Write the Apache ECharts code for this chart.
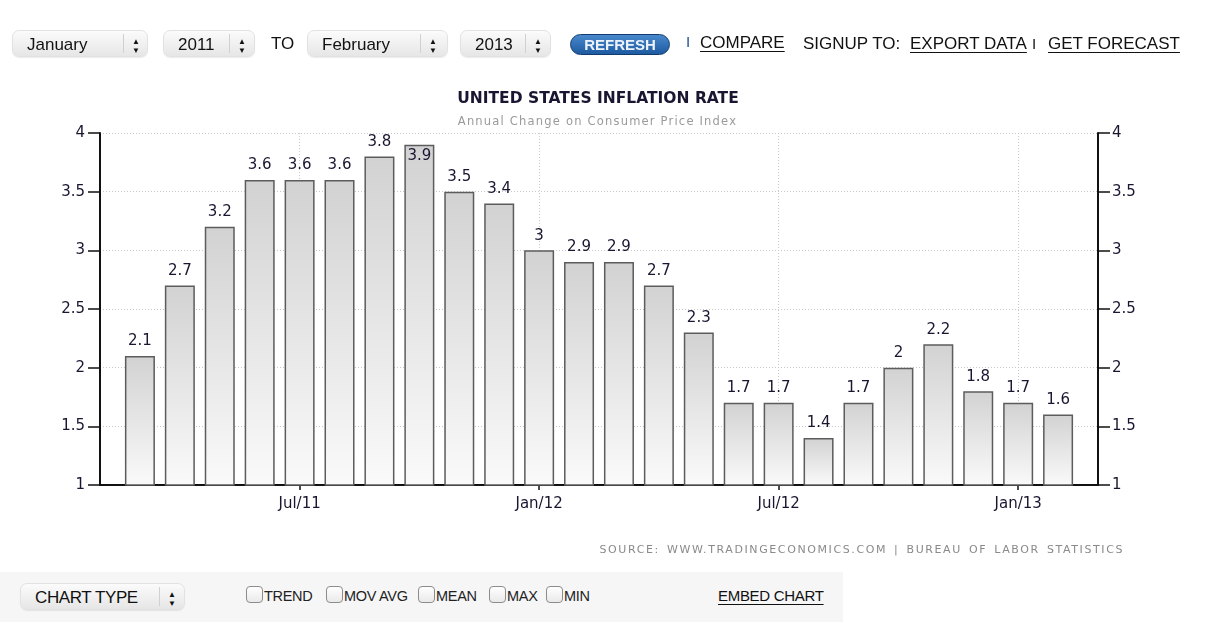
<!DOCTYPE html>
<html>
<head>
<meta charset="utf-8">
<script src="https://cdn.jsdelivr.net/npm/echarts@6/dist/echarts.min.js"></script>
<style>
  html, body { margin:0; padding:0; background:#fff; }
  #wrap { position:relative; width:1223px; height:641px; overflow:hidden; }
  #chart { position:absolute; left:0; top:0; width:1223px; height:641px; }
  .ui { position:absolute; font-family:"Liberation Sans", Arial, sans-serif; color:#111; white-space:nowrap; }
  .sel { position:absolute; height:27px; border-radius:7px; border:1px solid #e2e2e2;
         background:linear-gradient(#fbfbfb,#e6e6e6); box-shadow:0 1px 1px rgba(0,0,0,0.08);
         font-size:17px; line-height:27px; box-sizing:border-box; }
  .sel .t { position:absolute; left:14px; top:0; }
  .sel .sep { position:absolute; top:3px; bottom:3px; width:1px; background:#d0d0d0; }
  .sel .ar { position:absolute; line-height:9px; top:6px; font-size:8px; letter-spacing:0; }
  .lnk { position:absolute; font-size:17px; text-decoration:underline; text-underline-offset:3px; }
  .txt { position:absolute; font-size:17px; }
  .cb { position:absolute; top:586px; width:17px; height:17px; border:1px solid #8c8c8c; border-radius:4px; background:linear-gradient(#fff,#e9e9e9); box-sizing:border-box;}
  .cbl { position:absolute; top:588px; font-size:14.5px; letter-spacing:-0.3px; color:#222; }
  .ctext { position:absolute; font-family:"DejaVu Sans", sans-serif; white-space:nowrap; }
</style>
</head>
<body>
<div id="wrap">
  <div id="chart"></div>
</div>

<script>
// ---------- data ----------
// category stamps: each bar is dated at its month end, shown as the following month
var categories = ["Feb/11","Mar/11","Apr/11","May/11","Jun/11","Jul/11","Aug/11","Sep/11","Oct/11","Nov/11","Dec/11","Jan/12",
                  "Feb/12","Mar/12","Apr/12","May/12","Jun/12","Jul/12","Aug/12","Sep/12","Oct/12","Nov/12","Dec/12","Jan/13","Feb/13","Mar/13"];
var values = [null, 2.1, 2.7, 3.2, 3.6, 3.6, 3.6, 3.8, 3.9, 3.5, 3.4, 3.0, 2.9, 2.9, 2.7, 2.3, 1.7, 1.7, 1.4, 1.7, 2.0, 2.2, 1.8, 1.7, 1.6, null];
var tickLabels = ["Jul/11","Jan/12","Jul/12","Jan/13"];
var yTicks = [1, 1.5, 2, 2.5, 3, 3.5, 4];

var titleText = "UNITED STATES INFLATION RATE";
var subtitleText = "Annual Change on Consumer Price Index";
var sourceText = "SOURCE: WWW.TRADINGECONOMICS.COM | BUREAU OF LABOR STATISTICS";

// ---------- HTML controls ----------
(function(){
  var w = document.getElementById('wrap');
  function sel(x, y, wd, label, sepX){
    return '<div class="ui sel" style="left:'+x+'px;top:'+y+'px;width:'+wd+'px;">'+
      '<span class="t">'+label+'</span><span class="sep" style="left:'+sepX+'px"></span>'+
      '<span class="ar" style="left:'+(sepX+9)+'px;">&#9650;<br>&#9660;</span></div>';
  }
  var h = '';
  h += sel(12, 30, 136, 'January', 110);
  h += sel(163, 30, 92, '2011', 65);
  h += '<div class="ui txt" style="left:271px;top:34px;">TO</div>';
  h += sel(307, 30, 141, 'February', 112);
  h += sel(460, 30, 91, '2013', 64);
  h += '<div class="ui" style="left:570px;top:34px;width:100px;height:21px;border-radius:11px;background:linear-gradient(#4a88cc,#1d5aa0);border:1px solid #123c70;box-sizing:border-box;color:#eef3fb;font-weight:bold;font-size:15px;line-height:19px;text-align:center;">REFRESH</div>';
  h += '<div class="ui txt" style="left:686px;top:33px;color:#1d4f99;font-size:15px;">I</div>';
  h += '<div class="ui lnk" style="left:700px;top:33px;">COMPARE</div>';
  h += '<div class="ui txt" style="left:803px;top:34px;">SIGNUP TO:</div>';
  h += '<div class="ui lnk" style="left:910px;top:34px;">EXPORT DATA</div>';
  h += '<div class="ui txt" style="left:1032px;top:35px;font-size:15px;">I</div>';
  h += '<div class="ui lnk" style="left:1048px;top:34px;">GET FORECAST</div>';

  // bottom bar
  h += '<div style="position:absolute;left:0;top:572px;width:843px;height:50px;background:#f6f6f6;"></div>';
  h += sel(20, 583, 165, 'CHART TYPE', 138).replace('class="ui sel" style="', 'class="ui sel" style="letter-spacing:-0.4px;');
  var checks = [[246,'TREND',264],[326,'MOV AVG',344],[418,'MEAN',436],[489,'MAX',507],[546,'MIN',564]];
  checks.forEach(function(k){
    h += '<div class="ui cb" style="left:'+k[0]+'px;"></div><div class="ui cbl" style="left:'+k[2]+'px;">'+k[1]+'</div>';
  });
  h += '<div class="ui lnk" style="left:718px;top:587px;font-size:15px;letter-spacing:-0.3px;">EMBED CHART</div>';

  // chart texts
  h += '<div class="ctext" style="left:0;width:1195px;text-align:center;top:114px;font-size:11.5px;letter-spacing:1.2px;color:#9a9a9a;">'+subtitleText+'</div>';
  h += '<div class="ctext" style="right:99px;top:543px;font-size:11px;letter-spacing:1.6px;color:#8a8a8a;word-spacing:2px;">'+sourceText+'</div>';
  w.insertAdjacentHTML('beforeend', h);
})();

// ---------- chart ----------
var chart = echarts.init(document.getElementById('chart'), null, {renderer:'canvas'});
var ymin = yTicks[0], ymax = yTicks[yTicks.length-1];

var barData = values.map(function(v){
  if (v === null) return null;
  if (v > ymax - 0.15) return {value:v, label:{position:'insideTop', distance:4}};
  return v;
});

function isTick(i){ return tickLabels.indexOf(categories[i]) >= 0; }

var axisFont = {fontFamily:'DejaVu Sans', fontSize:15, color:'#1a1530'};

var option = {
  animation:false,
  backgroundColor:'transparent',
  title:[
    {text:titleText, left:593, top:86, textAlign:'center',
     textStyle:{fontFamily:'DejaVu Sans', fontWeight:'bold', fontSize:15.5, color:'#1a1530'}}
  ],
  grid:{left:100, right:125, top:133, bottom:156, containLabel:false},
  xAxis:{
    type:'category', data:categories, boundaryGap:false,
    axisLine:{show:true, onZero:false, lineStyle:{color:'#111', width:2}},
    axisTick:{show:true, length:5, interval:function(i){return isTick(i);}, lineStyle:{color:'#111', width:1.5}},
    axisLabel:{interval:function(i){return isTick(i);}, margin:12, fontFamily:'DejaVu Sans', fontSize:15, color:'#1a1530'},
    splitLine:{show:true, interval:function(i){return isTick(i);}, lineStyle:{color:'#c8c8c8', type:[1,2], width:1}}
  },
  yAxis:[
    {type:'value', min:ymin, max:ymax, interval:0.5, position:'left',
     axisLine:{show:true, lineStyle:{color:'#111', width:2}},
     axisTick:{show:true, length:12, lineStyle:{color:'#111', width:1.5}},
     axisLabel:Object.assign({margin:15}, axisFont),
     splitLine:{show:true, lineStyle:{color:'#c8c8c8', type:[1,2], width:1}}},
    {type:'value', min:ymin, max:ymax, interval:0.5, position:'right',
     axisLine:{show:true, lineStyle:{color:'#111', width:2}},
     axisTick:{show:true, length:12, lineStyle:{color:'#111', width:1.5}},
     axisLabel:Object.assign({margin:14}, axisFont),
     splitLine:{show:false}}
  ],
  series:[{
    type:'bar', data:barData, barWidth:30, yAxisIndex:0,
    itemStyle:{
      color:new echarts.graphic.LinearGradient(0,0,0,1,[{offset:0,color:'#d2d2d2'},{offset:1,color:'#fafafa'}]),
      borderColor:'#5c5c5c', borderWidth:1.5
    },
    label:{show:true, position:'top', distance:7, fontFamily:'DejaVu Sans', fontSize:15, color:'#1a1530',
           formatter:function(p){return String(p.value);}}
  }]
};
chart.setOption(option);
</script>
</body>
</html>
